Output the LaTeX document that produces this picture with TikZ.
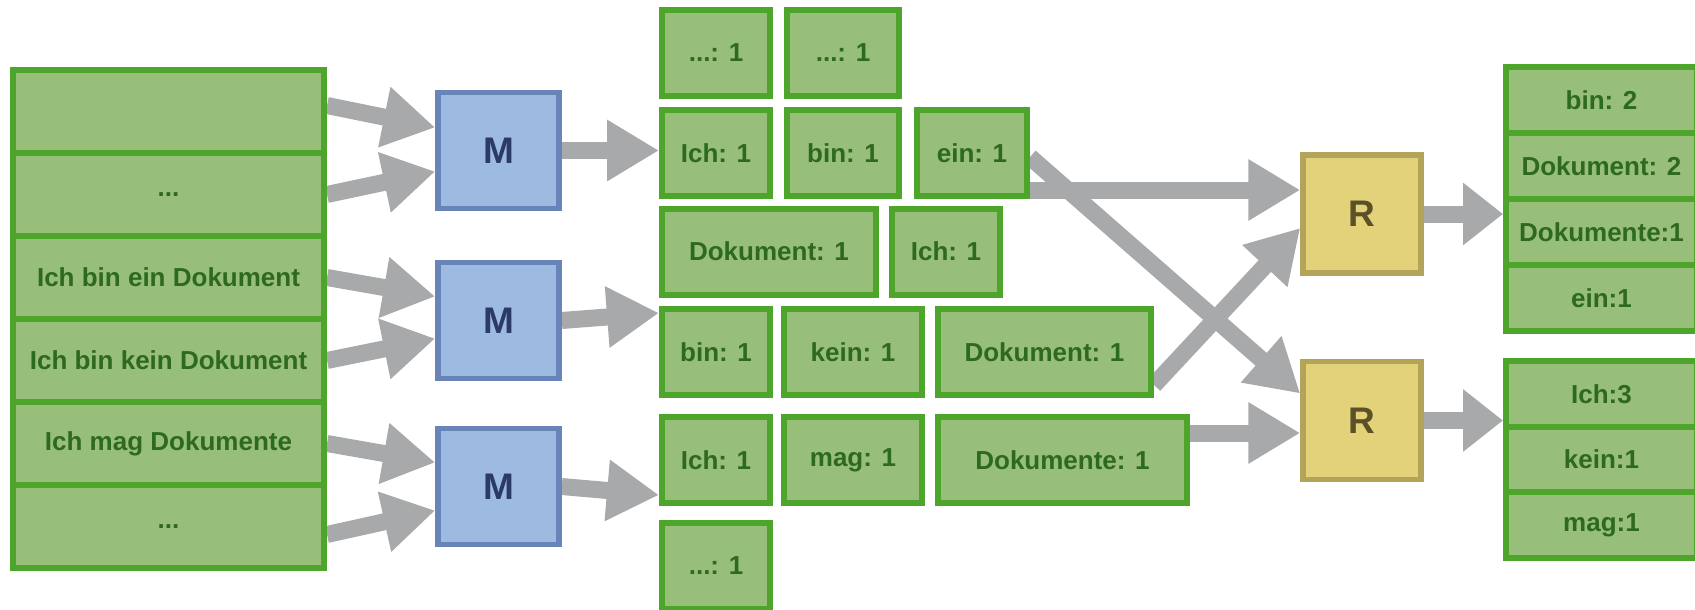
\documentclass[tikz,border=0pt]{standalone}
\usepackage{fontspec}
\setmainfont{Liberation Sans}
\usetikzlibrary{arrows.meta,calc,backgrounds}
\definecolor{gfill}{HTML}{97BF79}
\definecolor{gdraw}{HTML}{4DA52B}
\definecolor{gtext}{HTML}{2D691E}
\definecolor{mfill}{HTML}{9DBAE0}
\definecolor{mdraw}{HTML}{6884B8}
\definecolor{mtext}{HTML}{2B3A68}
\definecolor{rfill}{HTML}{E3D27A}
\definecolor{rdraw}{HTML}{B2A459}
\definecolor{rtext}{HTML}{5A5226}
\definecolor{agray}{HTML}{A7A9AA}
\begin{document}
\begin{tikzpicture}[x=1pt,y=-1pt,
  gbox/.style={draw=gdraw, fill=gfill, line width=6pt, text=gtext,
    font=\fontsize{26}{30}\selectfont\bfseries, inner sep=0pt, minimum height=86pt},
  sbox/.style={gbox, minimum width=311pt, minimum height=83pt},
  tbox/.style={gbox, minimum width=191pt, minimum height=66pt},
  ubox/.style={gbox, minimum width=191pt, minimum height=65.5pt},
  mbox/.style={draw=mdraw, fill=mfill, line width=5.5pt, text=mtext,
    font=\fontsize{37}{40}\selectfont\bfseries, inner sep=0pt,
    minimum width=121pt, minimum height=116pt},
  rbox/.style={draw=rdraw, fill=rfill, line width=5.5pt, text=rtext,
    font=\fontsize{37}{40}\selectfont\bfseries, inner sep=0pt,
    minimum width=118pt, minimum height=118pt},
  arr/.style={draw=agray, line width=17pt, -{Triangle[length=52pt,width=58pt]}},
  outarr/.style={draw=agray, line width=17pt, -{Triangle[length=40pt,width=60pt]}}
]
\useasboundingbox (0,0) rectangle (1695,610);

% left stack
\node[sbox] (s1) at (168.5,111.5) {};
\node[sbox] (s2) at (168.5,194.5) {...};
\node[sbox] (s3) at (168.5,277.5) {Ich bin ein Dokument};
\node[sbox] (s4) at (168.5,360.5) {Ich bin kein Dokument};
\node[sbox] (s5) at (168.5,443.5) {Ich mag Dokumente};
\node[sbox] (s6) at (168.5,526.5) {...};

% mappers
\node[mbox] (m1) at (498.5,150.5) {M};
\node[mbox] (m2) at (498.5,320.5) {M};
\node[mbox] (m3) at (498.5,486.5) {M};

% intermediate pairs
\node[gbox, minimum width=108pt] (a11) at (716,53) {...: 1};
\node[gbox, minimum width=112pt] (a12) at (843,53) {...: 1};
\node[gbox, minimum width=108pt] (a21) at (716,153) {Ich: 1};
\node[gbox, minimum width=112pt] (a22) at (843,153) {bin: 1};
\node[gbox, minimum width=110pt] (a23) at (972,153) {ein: 1};
\node[gbox, minimum width=214pt] (a31) at (769,251.5) {Dokument: 1};
\node[gbox, minimum width=108pt] (a32) at (946,251.5) {Ich: 1};
\node[gbox, minimum width=108pt] (a41) at (716,352) {bin: 1};
\node[gbox, minimum width=138pt] (a42) at (853,352) {kein: 1};
\node[gbox, minimum width=213pt] (a43) at (1044.5,352) {Dokument: 1};
\node[gbox, minimum width=108pt] (a51) at (716,460) {Ich: 1};
\node[gbox, minimum width=138pt] (a52) at (853,460) {mag: 1};
\node[gbox, minimum width=249pt] (a53) at (1062.5,460) {Dokumente: 1};
\node[gbox, minimum width=108pt] (a61) at (716,566) {...: 1};

% reducers
\node[rbox] (r1) at (1362,214) {R};
\node[rbox] (r2) at (1362,420.5) {R};

% results
\node[tbox] (t1) at (1601.5,100) {bin: 2};
\node[tbox] (t2) at (1601.5,166) {Dokument: 2};
\node[tbox] (t3) at (1601.5,232) {Dokumente:1};
\node[tbox] (t4) at (1601.5,298) {ein:1};
\node[ubox] (u1) at (1601.5,394) {Ich:3};
\node[ubox] (u2) at (1601.5,459.5) {kein:1};
\node[ubox] (u3) at (1601.5,525) {mag:1};

\begin{scope}[on background layer]
\draw[arr] ($(s1.east)+(0,-6)$) -- ($(m1.west)+(0,-23)$);
\draw[arr] (s2.east) -- ($(m1.west)+(0,21)$);
\draw[arr] (s3.east) -- ($(m2.west)+(0,-24)$);
\draw[arr] (s4.east) -- ($(m2.west)+(0,18)$);
\draw[arr] (s5.east) -- ($(m3.west)+(0,-24)$);
\draw[arr] ($(s6.east)+(0,8)$) -- ($(m3.west)+(0,24)$);

\draw[arr] (m1.east) -- (m1.east -| a21.west);
\draw[arr] (m2.east) -- ($(a41.west)+(0,-39)$);
\draw[arr] (m3.east) -- ($(a51.west)+(0,35)$);

\draw[arr] ($(a23.east)+(0,37)$) -- ($(r1.west)+(0,-24)$);
\draw[arr] ($(a23.east)+(0,4)$) -- ($(r2.west)+(0,-27)$);
\draw[arr] ($(a43.east)+(0,33)$) -- ($(r1.west)+(0,14)$);
\draw[arr] ($(a53.east)+(0,-27)$) -- ($(r2.west)+(0,12.5)$);

\draw[outarr] (r1.east) -- (r1.east -| t3.west);
\draw[outarr] (r2.east) -- (r2.east -| u1.west);
\end{scope}
\end{tikzpicture}
\end{document}
